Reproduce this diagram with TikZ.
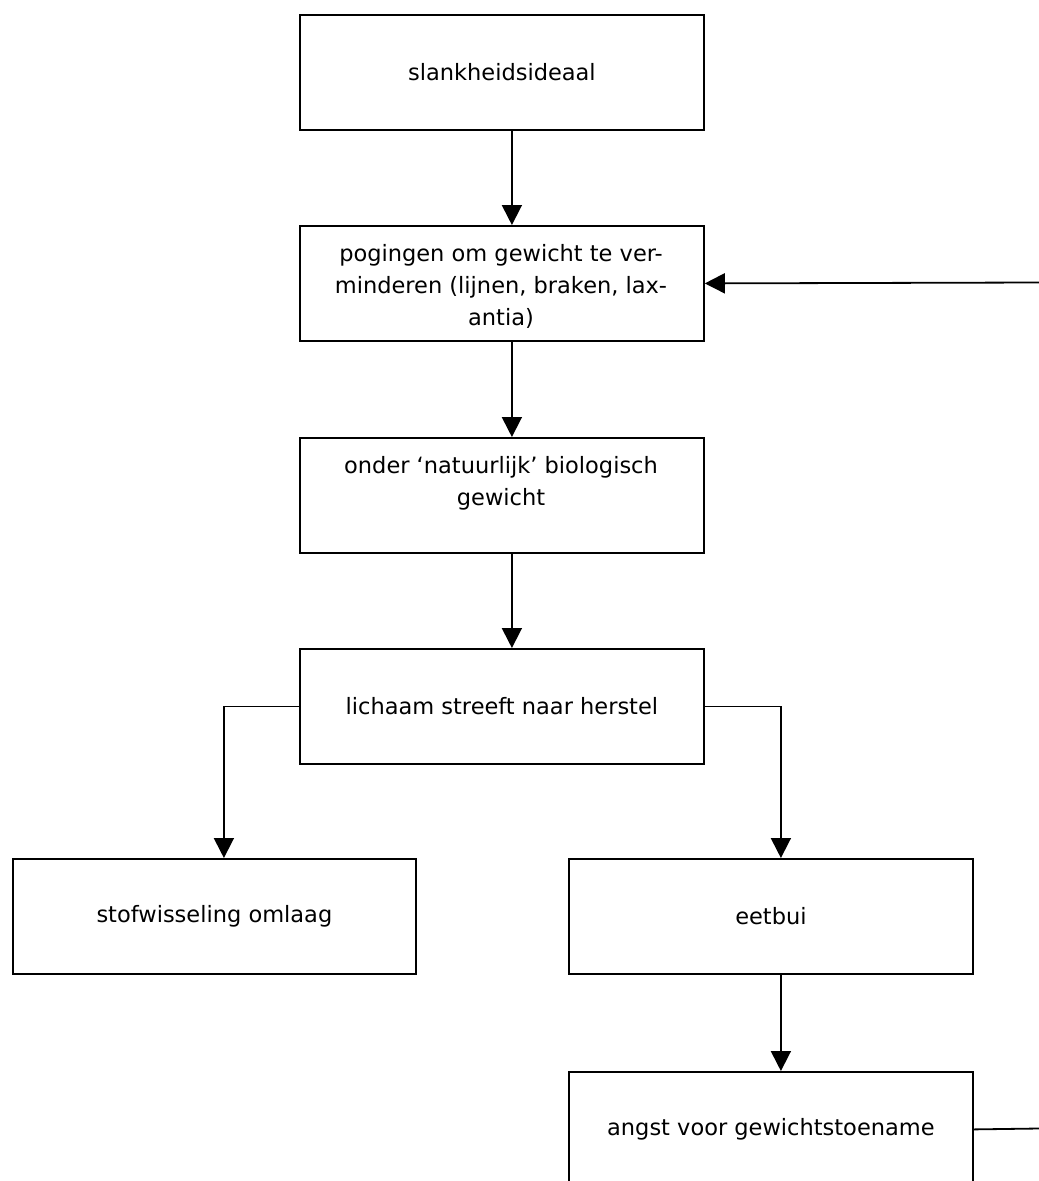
\documentclass[tikz,border=0pt]{standalone}
\usepackage{fontspec}
\setmainfont{DejaVu Sans}
\usetikzlibrary{arrows.meta}
\begin{document}
\begin{tikzpicture}[x=1pt,y=-1pt,
  box/.style={draw, line width=1.8pt, inner sep=0pt, minimum width=404pt, minimum height=115pt, anchor=north west,
    font=\fontsize{22.5}{32}\selectfont, align=center},
  lbl/.style={font=\fontsize{22.5}{32}\selectfont, align=center, inner sep=0pt},
  conn/.style={line width=1.8pt, -{Triangle[width=20pt,length=20pt]}},
  plain/.style={line width=1.8pt}]
\useasboundingbox (0,0) rectangle (1039,1181);
\clip (0,0) rectangle (1039,1181);
\node[box] (b1) at (299,14) {slankheidsideaal};
\node[box] (b2) at (299,225) {};
\node[lbl, anchor=north] (t2) at (501,244) {pogingen om gewicht te ver-\\minderen (lijnen, braken, lax-\\antia)};
\node[box] (b3) at (299,437) {};
\node[lbl, anchor=north] (t3) at (501,456) {onder ‘natuurlijk’ biologisch\\gewicht};
\node[box] (b4) at (299,648) {lichaam streeft naar herstel};
\node[box, minimum width=403pt] (b5) at (12,858) {stofwisseling omlaag};
\node[box] (b6) at (568,858) {eetbui};
\node[box] (b7) at (568,1071) {angst voor gewichtstoename};
\coordinate (r1) at (1039,282.5);
\coordinate (r2) at (1039,1128.5);
\draw[conn] ([xshift=10pt]b1.south) -- ([xshift=10pt]b2.north);
\draw[conn] ([xshift=10pt]b2.south) -- ([xshift=10pt]b3.north);
\draw[conn] ([xshift=10pt]b3.south) -- ([xshift=10pt]b4.north);
\draw[conn] (b4.west) -| ([xshift=9.5pt]b5.north);
\draw[conn] (b4.east) -| ([xshift=10pt]b6.north);
\draw[conn] ([xshift=10pt]b6.south) -- ([xshift=10pt]b7.north);
\draw[plain] (b7.east) -- (r2);
\draw[conn] (r1) -- (b2.east);
\end{tikzpicture}
\end{document}
